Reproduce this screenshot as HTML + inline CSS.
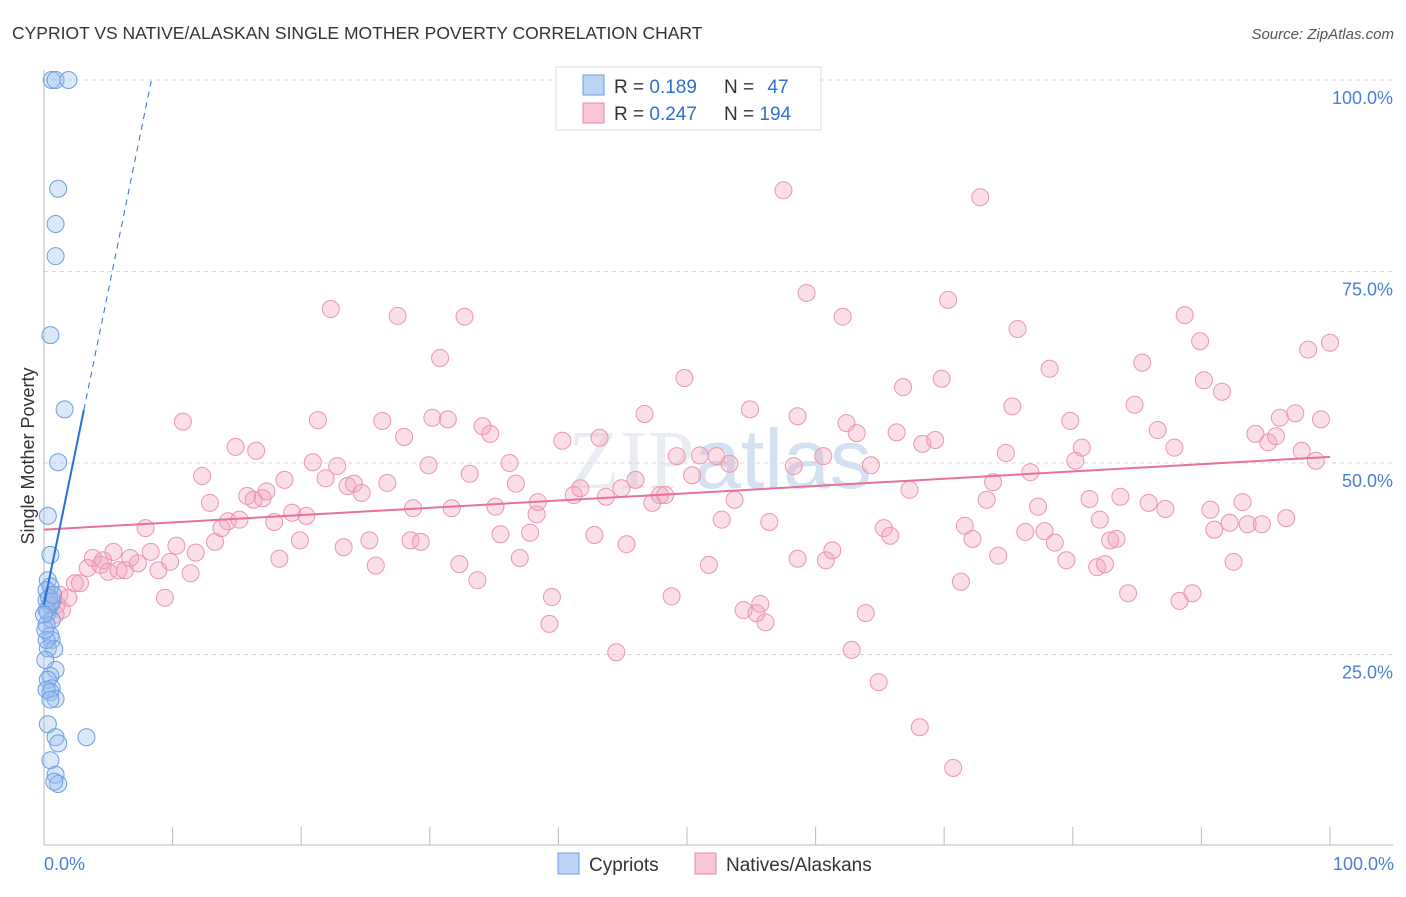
<!DOCTYPE html>
<html><head><meta charset="utf-8"><style>
body{margin:0;background:#fff;font-family:"Liberation Sans",sans-serif;}
</style></head><body>
<svg id="chart" width="1406" height="892" xmlns="http://www.w3.org/2000/svg" font-family="Liberation Sans, sans-serif">
<text x="12" y="39" font-size="17.5" fill="#333">CYPRIOT VS NATIVE/ALASKAN SINGLE MOTHER POVERTY CORRELATION CHART</text>
<text x="1394" y="39" font-size="15" fill="#555" text-anchor="end" font-style="italic">Source: ZipAtlas.com</text>
<text x="720" y="488" font-size="84" fill="#d4dbe6" opacity="0.5" text-anchor="middle" font-family="Liberation Serif, serif">ZIP<tspan font-family="Liberation Sans, sans-serif" fill="#a9c4e8">atlas</tspan></text>
<g id="grid"></g>
<g id="axes"></g>
<g id="pts"></g>
<g id="trends"></g>
<text transform="translate(34,456) rotate(-90)" font-size="18" fill="#333" text-anchor="middle">Single Mother Poverty</text>
<text x="44" y="870" font-size="18" fill="#4a7fd4">0.0%</text>
<text x="1394" y="870" font-size="18" fill="#4a7fd4" text-anchor="end">100.0%</text>
<g>
<rect x="556" y="67" width="265" height="63" fill="#fff" stroke="#ddd"/>
<rect x="583" y="75" width="21" height="20" fill="#bcd4f4" stroke="#6a9de0"/>
<rect x="583" y="103" width="21" height="20" fill="#f9c6d5" stroke="#e98aa8"/>
<text x="614" y="93" font-size="19" fill="#333">R = <tspan fill="#2f6fd0">0.189</tspan></text>
<text x="724" y="93" font-size="19" fill="#333">N = <tspan fill="#2f6fd0" dx="8">47</tspan></text>
<text x="614" y="120" font-size="19" fill="#333">R = <tspan fill="#2f6fd0">0.247</tspan></text>
<text x="724" y="120" font-size="19" fill="#333">N = <tspan fill="#2f6fd0">194</tspan></text>
</g>
<g>
<rect x="558" y="853" width="21" height="21" fill="#bcd4f4" stroke="#6a9de0"/>
<text x="589" y="871" font-size="19" fill="#333">Cypriots</text></g>
<g>
<rect x="695" y="853" width="21" height="21" fill="#f9c6d5" stroke="#e98aa8"/>
<text x="726" y="871" font-size="19" fill="#333">Natives/Alaskans</text></g>
</svg>
<script>
const yTicks=[25,50,75,100];
const yTickLabels=["25.0%","50.0%","75.0%","100.0%"];
const xTicks=[10,20,30,40,50,60,70,80,90,100];
const blueX=[0.6,0.9,1.9,1.1,0.9,0.9,0.5,1.6,1.1,0.3,0.5,0.3,0.5,0.2,0.5,0.3,0.6,0.2,0.5,0.6,0.3,0.8,0.9,0.5,0.3,0.6,0.5,0.9,0.3,0.9,1.1,3.3,0.5,0.9,1.1,0.8,0.2,0.2,0.4,0.6,0.2,0.2,0.5,0.1,0.1,0,0.7];
const blueY=[100,100,100,85.8,81.2,77.0,66.7,57.0,50.1,43.1,38.0,34.7,33.9,32.1,31.5,30.5,29.5,28.9,27.5,26.9,25.8,25.7,23.0,22.2,21.7,20.6,20.1,19.2,15.9,14.2,13.4,14.2,11.2,9.3,8.1,8.4,30.8,33.4,32.4,31.9,26.9,20.4,19.1,24.3,28.2,30.2,32.8];
const pinkX=[0.7,1.0,1.2,1.4,0.9,1.9,2.4,2.8,3.4,3.8,4.4,4.6,5.0,5.4,5.8,6.3,6.7,7.3,7.9,8.3,8.9,9.4,9.8,10.3,10.8,11.4,11.8,12.3,12.9,13.3,13.8,14.3,14.9,15.2,15.8,16.3,16.5,17.0,17.3,17.9,18.3,18.7,19.3,19.9,20.4,20.9,21.3,21.9,22.3,22.8,23.3,23.6,24.1,24.7,25.3,25.8,26.3,26.7,27.5,28.0,28.5,28.7,29.3,29.9,30.2,30.8,31.4,31.7,32.3,32.7,33.1,33.7,34.1,34.7,35.1,35.5,36.2,36.7,37.0,37.8,38.3,38.4,39.3,39.5,40.3,41.2,41.7,42.8,43.2,43.7,44.5,44.9,45.3,46.0,46.7,47.3,47.9,48.3,48.8,49.2,49.8,50.4,51.0,51.7,52.3,52.7,53.3,53.7,54.4,54.9,55.4,55.7,56.1,56.4,57.5,58.3,58.6,58.6,59.3,60.6,60.8,61.3,62.1,62.4,62.8,63.2,63.9,64.3,64.9,65.3,65.8,66.3,66.8,67.3,68.1,68.3,69.3,69.8,70.3,70.7,71.3,71.6,72.2,72.8,73.3,73.8,74.2,74.8,75.3,75.7,76.3,76.7,77.3,77.8,78.2,78.6,79.5,79.8,80.2,80.7,81.3,81.9,82.1,82.5,82.9,83.4,83.7,84.3,84.8,85.4,85.9,86.6,87.2,87.9,88.3,88.7,89.3,89.9,90.2,90.7,91.0,91.6,92.2,92.5,93.2,93.6,94.2,94.7,95.2,95.8,96.1,96.6,97.3,97.8,98.3,98.9,99.3,100];
const pinkY=[32.1,31.5,32.8,30.8,30.2,32.4,34.3,34.3,36.3,37.6,36.7,37.3,35.8,38.4,36.0,36.0,37.6,36.9,41.5,38.4,36.0,32.4,37.1,39.2,55.4,35.6,38.3,48.3,44.8,39.7,41.5,42.4,52.1,42.6,45.7,45.2,51.6,45.4,46.3,42.3,37.5,47.8,43.5,39.9,43.1,50.1,55.6,48.0,70.1,49.6,39.0,47.0,47.3,46.1,39.9,36.6,55.5,47.4,69.2,53.4,39.9,44.1,39.7,49.7,55.9,63.7,55.7,44.1,36.8,69.1,48.6,34.7,54.8,53.8,44.3,40.7,50.0,47.3,37.6,40.9,43.3,44.9,29.0,32.5,52.9,45.8,46.7,40.6,53.3,45.6,25.3,46.7,39.4,47.8,56.4,44.8,45.8,45.8,32.6,50.9,61.1,48.4,51.0,36.7,50.9,42.6,49.9,45.2,30.8,57.0,30.4,31.6,29.2,42.3,85.6,49.6,37.5,56.1,72.2,50.9,37.3,38.6,69.1,55.2,25.6,53.9,30.4,49.7,21.4,41.5,40.5,54.0,59.9,46.5,15.5,52.5,53.0,61.0,71.3,10.2,34.5,41.8,40.1,84.7,45.2,47.5,37.9,51.3,57.4,67.5,41.0,48.8,44.3,41.1,62.3,39.6,37.3,55.5,50.3,52.0,45.3,36.4,42.6,36.8,39.9,40.1,45.6,33.0,57.6,63.1,44.8,54.3,44.0,52.0,32.0,69.3,33.0,65.9,60.8,43.9,41.3,59.3,42.2,37.1,44.9,42.0,53.8,42.0,52.7,53.5,55.9,42.8,56.5,51.6,64.8,50.3,55.7,65.7];
const blueTrend=[31.5,8.2];   // intercept, slope
const pinkTrend=[41.3,0.095];
const NS="http://www.w3.org/2000/svg";
const X=v=>44+v*12.86;
const Y=v=>846-v*7.66;
function mk(tag,attrs,parent){const e=document.createElementNS(NS,tag);for(const k in attrs)e.setAttribute(k,attrs[k]);document.getElementById(parent).appendChild(e);return e;}
yTicks.forEach((t,i)=>{
 const g=mk('line',{x1:44,x2:1393,y1:Y(t),y2:Y(t),stroke:'#d8d8d8','stroke-dasharray':'4,4'},'grid');
 
 
 const l=mk('text',{x:1393,y:Y(t)+24,'font-size':18,fill:'#4a7fd4','text-anchor':'end'},'grid');
 l.textContent=yTickLabels[i];
 
 
});
const ax=mk('line',{x1:44,x2:1393,y1:845,y2:845,stroke:'#bbb'},'axes');


const ay=mk('line',{x1:44,x2:44,y1:70,y2:845,stroke:'#bbb'},'axes');


xTicks.forEach(t=>{
 const k=mk('line',{x1:X(t),x2:X(t),y1:827,y2:845,stroke:'#bbb'},'axes');
 
 
});
pinkX.forEach((x,i)=>{
 const c=mk('circle',{cx:X(x),cy:Y(pinkY[i]),r:8.5,fill:'rgba(244,164,190,0.35)',stroke:'#eb95b1','stroke-width':1},'pts');
 
 
});
blueX.forEach((x,i)=>{
 const c=mk('circle',{cx:X(x),cy:Y(blueY[i]),r:8.5,fill:'rgba(150,190,240,0.35)',stroke:'#6c9fe0','stroke-width':1},'pts');
 
 
});
const pl=mk('line',{x1:X(0),y1:Y(pinkTrend[0]),x2:X(100),y2:Y(pinkTrend[0]+pinkTrend[1]*100),stroke:'#e8709a','stroke-width':2},'trends');


const bx=3.1, bxEnd=(100-blueTrend[0])/blueTrend[1];
const bl=mk('line',{x1:X(0),y1:Y(blueTrend[0]),x2:X(bx),y2:Y(blueTrend[0]+blueTrend[1]*bx),stroke:'#2a6fd6','stroke-width':2},'trends');


const bd=mk('line',{x1:X(bx),y1:Y(blueTrend[0]+blueTrend[1]*bx),x2:X(bxEnd),y2:Y(100),stroke:'#2a6fd6','stroke-width':1,'stroke-dasharray':'6,5'},'trends');


</script>
</body></html>
